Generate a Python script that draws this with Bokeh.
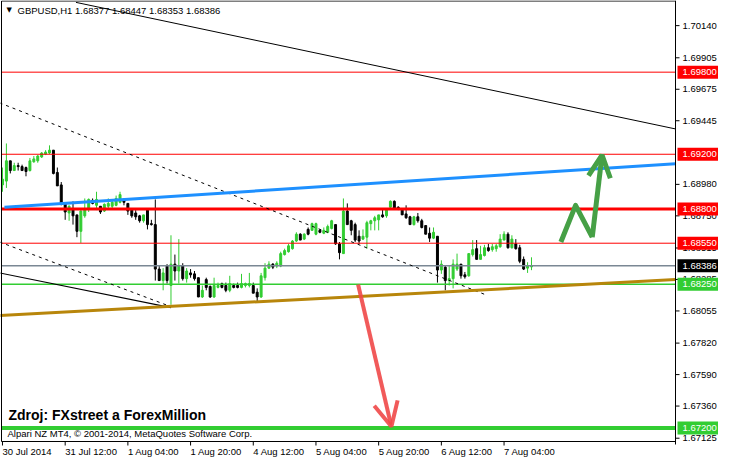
from bokeh.plotting import figure
from bokeh.models import Range1d, Label, Arrow, OpenHead, ColumnDataSource
from bokeh.core.properties import value
from bokeh.embed import file_html
from bokeh.resources import INLINE

# ---------------- data (GBPUSD H1) ----------------
opens = [
    1.68976, 1.69004, 1.69152, 1.69081, 1.69117, 1.69110, 1.69103, 1.69081, 1.69145, 1.69152,
    1.69180, 1.69201, 1.69209, 1.69230, 1.69067, 1.68976, 1.68841, 1.68771, 1.68799, 1.68757,
    1.68637, 1.68750, 1.68799, 1.68863, 1.68827, 1.68820, 1.68785, 1.68820, 1.68820, 1.68827,
    1.68849, 1.68870, 1.68841, 1.68792, 1.68771, 1.68750, 1.68714, 1.68792, 1.68693, 1.68686,
    1.68361, 1.68277, 1.68383, 1.68241, 1.68397, 1.68347, 1.68383, 1.68291, 1.68333, 1.68326,
    1.68298, 1.68157, 1.68284, 1.68234, 1.68157, 1.68227, 1.68255, 1.68241, 1.68206, 1.68241,
    1.68241, 1.68227, 1.68241, 1.68241, 1.68241, 1.68192, 1.68157, 1.68298, 1.68368, 1.68397,
    1.68383, 1.68383, 1.68467, 1.68488, 1.68510, 1.68566, 1.68616, 1.68580, 1.68651, 1.68644,
    1.68616, 1.68644, 1.68623, 1.68630, 1.68658, 1.68686, 1.68545, 1.68474, 1.68785, 1.68714,
    1.68686, 1.68601, 1.68580, 1.68594, 1.68693, 1.68714, 1.68721, 1.68757, 1.68750, 1.68813,
    1.68856, 1.68813, 1.68792, 1.68764, 1.68743, 1.68686, 1.68743, 1.68714, 1.68679, 1.68623,
    1.68587, 1.68601, 1.68354, 1.68375, 1.68277, 1.68291, 1.68361, 1.68397, 1.68319, 1.68312,
    1.68467, 1.68510, 1.68432, 1.68460, 1.68517, 1.68503, 1.68510, 1.68524, 1.68573, 1.68616,
    1.68517, 1.68545, 1.68517, 1.68432, 1.68368, 1.68377]
highs = [
    1.69103, 1.69279, 1.69152, 1.69138, 1.69138, 1.69124, 1.69110, 1.69173, 1.69187, 1.69194,
    1.69216, 1.69230, 1.69265, 1.69230, 1.69103, 1.68997, 1.68841, 1.68827, 1.68856, 1.68757,
    1.68792, 1.68877, 1.68877, 1.68877, 1.68926, 1.68820, 1.68841, 1.68877, 1.68863, 1.68898,
    1.68926, 1.68877, 1.68841, 1.68806, 1.68792, 1.68757, 1.68757, 1.68792, 1.68721, 1.68870,
    1.68383, 1.68368, 1.68397, 1.68608, 1.68467, 1.68580, 1.68404, 1.68368, 1.68361, 1.68347,
    1.68298, 1.68241, 1.68298, 1.68241, 1.68298, 1.68262, 1.68262, 1.68262, 1.68312, 1.68255,
    1.68262, 1.68326, 1.68262, 1.68333, 1.68262, 1.68220, 1.68333, 1.68404, 1.68418, 1.68404,
    1.68418, 1.68488, 1.68510, 1.68545, 1.68573, 1.68630, 1.68623, 1.68623, 1.68665, 1.68700,
    1.68700, 1.68651, 1.68665, 1.68686, 1.68721, 1.68686, 1.68559, 1.68877, 1.68841, 1.68721,
    1.68700, 1.68644, 1.68651, 1.68714, 1.68721, 1.68750, 1.68757, 1.68806, 1.68806, 1.68863,
    1.68863, 1.68820, 1.68806, 1.68827, 1.68750, 1.68750, 1.68771, 1.68728, 1.68679, 1.68665,
    1.68665, 1.68601, 1.68425, 1.68383, 1.68383, 1.68432, 1.68474, 1.68397, 1.68340, 1.68474,
    1.68573, 1.68573, 1.68531, 1.68538, 1.68545, 1.68545, 1.68545, 1.68616, 1.68637, 1.68630,
    1.68608, 1.68580, 1.68538, 1.68453, 1.68411, 1.68447]
lows = [
    1.68926, 1.68954, 1.69060, 1.69081, 1.69081, 1.69081, 1.69039, 1.69074, 1.69138, 1.69138,
    1.69173, 1.69194, 1.69201, 1.69053, 1.68969, 1.68827, 1.68721, 1.68714, 1.68686, 1.68594,
    1.68552, 1.68736, 1.68778, 1.68834, 1.68792, 1.68764, 1.68778, 1.68806, 1.68806, 1.68820,
    1.68841, 1.68827, 1.68757, 1.68736, 1.68721, 1.68700, 1.68700, 1.68651, 1.68679, 1.68277,
    1.68277, 1.68206, 1.68255, 1.68100, 1.68277, 1.68255, 1.68277, 1.68262, 1.68298, 1.68277,
    1.68157, 1.68150, 1.68206, 1.68150, 1.68150, 1.68220, 1.68220, 1.68192, 1.68192, 1.68220,
    1.68220, 1.68220, 1.68227, 1.68227, 1.68185, 1.68121, 1.68150, 1.68277, 1.68361, 1.68361,
    1.68368, 1.68375, 1.68460, 1.68481, 1.68503, 1.68559, 1.68573, 1.68573, 1.68608, 1.68644,
    1.68608, 1.68623, 1.68616, 1.68623, 1.68651, 1.68538, 1.68432, 1.68474, 1.68686, 1.68608,
    1.68559, 1.68545, 1.68573, 1.68510, 1.68644, 1.68644, 1.68644, 1.68736, 1.68736, 1.68806,
    1.68799, 1.68792, 1.68757, 1.68728, 1.68686, 1.68679, 1.68700, 1.68658, 1.68616, 1.68559,
    1.68580, 1.68262, 1.68326, 1.68206, 1.68241, 1.68220, 1.68347, 1.68291, 1.68291, 1.68305,
    1.68453, 1.68432, 1.68432, 1.68453, 1.68488, 1.68488, 1.68488, 1.68517, 1.68573, 1.68510,
    1.68510, 1.68503, 1.68404, 1.68354, 1.68333, 1.68353]
closes = [
    1.69018, 1.69152, 1.69081, 1.69117, 1.69110, 1.69081, 1.69074, 1.69152, 1.69166, 1.69187,
    1.69209, 1.69216, 1.69230, 1.69060, 1.68969, 1.68834, 1.68778, 1.68820, 1.68750, 1.68637,
    1.68785, 1.68792, 1.68870, 1.68841, 1.68870, 1.68778, 1.68834, 1.68841, 1.68849, 1.68877,
    1.68905, 1.68849, 1.68785, 1.68750, 1.68743, 1.68714, 1.68757, 1.68686, 1.68686, 1.68361,
    1.68277, 1.68333, 1.68277, 1.68397, 1.68347, 1.68383, 1.68291, 1.68347, 1.68319, 1.68291,
    1.68157, 1.68206, 1.68227, 1.68157, 1.68241, 1.68241, 1.68227, 1.68206, 1.68255, 1.68227,
    1.68227, 1.68255, 1.68255, 1.68255, 1.68185, 1.68157, 1.68312, 1.68368, 1.68397, 1.68375,
    1.68404, 1.68474, 1.68496, 1.68531, 1.68566, 1.68616, 1.68573, 1.68616, 1.68616, 1.68693,
    1.68693, 1.68630, 1.68644, 1.68672, 1.68714, 1.68545, 1.68481, 1.68785, 1.68686, 1.68644,
    1.68573, 1.68566, 1.68601, 1.68700, 1.68714, 1.68736, 1.68757, 1.68743, 1.68792, 1.68856,
    1.68806, 1.68799, 1.68757, 1.68736, 1.68686, 1.68743, 1.68714, 1.68665, 1.68616, 1.68587,
    1.68630, 1.68354, 1.68397, 1.68277, 1.68291, 1.68397, 1.68397, 1.68312, 1.68305, 1.68474,
    1.68503, 1.68432, 1.68467, 1.68517, 1.68496, 1.68524, 1.68531, 1.68580, 1.68616, 1.68517,
    1.68580, 1.68510, 1.68418, 1.68361, 1.68383, 1.68386]

# time axis (bar index -> label)
xtick_bars = [0, 16, 32, 48, 64, 80, 96, 112, 128]
xtick_labels = ["30 Jul 2014", "31 Jul 12:00", "1 Aug 04:00", "1 Aug 20:00", "4 Aug 12:00",
                "5 Aug 04:00", "5 Aug 20:00", "6 Aug 12:00", "7 Aug 04:00"]
# price axis
ytick_values = [1.70140, 1.69905, 1.69675, 1.69445, 1.68980, 1.68750, 1.68515, 1.68285,
                1.68055, 1.67820, 1.67590, 1.67360, 1.67125]
chart_x0, chart_x1 = -0.25, 171.75     # visible bars of the chart window
chart_y0, chart_y1 = 1.67101, 1.70320  # visible prices of the chart window

# horizontal levels
red_thin_levels = [1.69800, 1.69200, 1.68550]
red_thick_level = 1.68800
bid_level = 1.68386
green_thin_level = 1.68250
green_thick_level = 1.67200

# trend lines (bar index, price)
black_line_x, black_line_y = [18.75, 171.75], [1.70310, 1.69385]
dash_up_x, dash_up_y = [-0.75, 123.5], [1.69576, 1.68171]
dash_lo_x, dash_lo_y = [-0.75, 43.0], [1.68559, 1.68086]
black_lo_x, black_lo_y = [-0.75, 43.0], [1.68333, 1.68079]
brown_x, brown_y = [-0.75, 171.75], [1.68022, 1.68284]
blue_x, blue_y = [0.5, 171.75], [1.68813, 1.69131]

# arrows
sell_x, sell_y = [90.75, 99.25], [1.68248, 1.67211]
buy_x = [142.5, 146.25, 150.5, 153.0]
buy_y = [1.68559, 1.68827, 1.68594, 1.69194]

# ---------------- layout (canvas pixels) ----------------
W, H = 718, 459
CL, CR, CT, CB = 1.0, 675.0, 0.5, 441.0   # chart window inside the canvas
kx = (CR - CL) / (chart_x1 - chart_x0)
ky = (CB - CT) / (chart_y1 - chart_y0)


def bx(px):
    return chart_x0 + (px - CL) / kx


def py(px):
    return chart_y1 - (px - CT) / ky


FONT = "Liberation Sans"
bull, bear = "#32CD32", "#000000"

p = figure(width=W, height=H, x_range=Range1d(bx(0), bx(W)), y_range=Range1d(py(H), py(0)),
           output_backend="svg", toolbar_location=None,
           x_axis_location=None, y_axis_location=None,
           min_border_left=0, min_border_right=0, min_border_top=0, min_border_bottom=0)
p.background_fill_color = "white"
p.border_fill_color = "white"
p.outline_line_color = None
p.xgrid.visible = False
p.ygrid.visible = False

# candles
bars = list(range(len(opens)))
colors = [bull if c >= o else bear for o, c in zip(opens, closes)]
src = ColumnDataSource(dict(
    x=bars, high=highs, low=lows,
    top=[max(o, c) for o, c in zip(opens, closes)],
    bottom=[min(o, c) for o, c in zip(opens, closes)],
    color=colors))
p.segment(x0="x", y0="low", x1="x", y1="high", line_color="color", line_width=1, source=src)
p.vbar(x="x", width=0.5, top="top", bottom="bottom", fill_color="color",
       line_color="color", line_width=1, source=src)


# horizontal levels (inside the chart window only)
def hline(level, color, width):
    p.segment(x0=[chart_x0], x1=[chart_x1], y0=[level], y1=[level],
              line_color=color, line_width=width)


for lv in red_thin_levels:
    hline(lv, "#FF0000", 1)
hline(red_thick_level, "#FF0000", 3)
hline(bid_level, "#7A8794", 1.5)
hline(green_thin_level, "#32CD32", 1.5)
hline(green_thick_level, "#32CD32", 4)

# trend lines
p.line(black_line_x, black_line_y, line_color="black", line_width=1)
p.line(dash_up_x, dash_up_y, line_color="black", line_width=1, line_dash="3 4")
p.line(dash_lo_x, dash_lo_y, line_color="black", line_width=1, line_dash="3 4")
p.line(black_lo_x, black_lo_y, line_color="black", line_width=1.2)
p.line(brown_x, brown_y, line_color="#B8860B", line_width=3)
p.line(blue_x, blue_y, line_color="#1E90FF", line_width=3)

# arrows
red_arrow = "#F04848"
p.add_layout(Arrow(x_start=sell_x[0], y_start=sell_y[0], x_end=sell_x[1], y_end=sell_y[1],
                   line_color=red_arrow, line_width=4, line_alpha=0.9,
                   end=OpenHead(size=24, line_color=red_arrow, line_width=4, line_alpha=0.9)))
green_arrow = "#46A046"
p.line(buy_x[:3], buy_y[:3], line_color=green_arrow, line_width=5, line_join="round")
p.add_layout(Arrow(x_start=buy_x[2], y_start=buy_y[2], x_end=buy_x[3], y_end=buy_y[3],
                   line_color=green_arrow, line_width=5,
                   end=OpenHead(size=22, line_color=green_arrow, line_width=5)))

# white cover below / right of the chart window, then the window frame
p.quad(left=[bx(0)], right=[bx(W)], top=[chart_y0], bottom=[py(H)], fill_color="white",
       line_color=None)
p.quad(left=[chart_x1], right=[bx(W)], top=[py(0)], bottom=[py(H)], fill_color="white",
       line_color=None)
p.segment(x0=[chart_x0, chart_x1, chart_x0, chart_x0],
          x1=[chart_x0, chart_x1, chart_x1, chart_x1],
          y0=[chart_y0, py(CB + 3), chart_y0, chart_y1],
          y1=[chart_y1, py(0), chart_y0, chart_y1],
          line_color="black", line_width=1)

# time axis: ticks and labels (labels start at their tick, as in MT4)
p.segment(x0=xtick_bars, x1=xtick_bars, y0=[chart_y0] * len(xtick_bars),
          y1=[py(CB + 4)] * len(xtick_bars), line_color="black", line_width=1)
p.text(x=xtick_bars, y=[py(CB + 10)] * len(xtick_bars), text=xtick_labels,
       text_font=value(FONT), text_font_size=value("9.5px"), text_color="black",
       text_align="left", text_baseline="middle")

# price axis: ticks and labels
p.segment(x0=[chart_x1] * len(ytick_values), x1=[bx(CR + 4)] * len(ytick_values),
          y0=ytick_values, y1=ytick_values, line_color="black", line_width=1)
p.text(x=[bx(CR + 7)] * len(ytick_values), y=ytick_values,
       text=["%.5f" % v for v in ytick_values],
       text_font=value(FONT), text_font_size=value("9.5px"), text_color="black",
       text_align="left", text_baseline="middle")

# price tags of the levels
tag_levels = red_thin_levels + [red_thick_level, bid_level, green_thin_level, green_thick_level]
tag_colors = ["#FF0000"] * 4 + ["#000000", "#32CD32", "#32CD32"]
p.rect(x=[bx(CR + 2 + 20.5)] * len(tag_levels), y=tag_levels, width=41, height=13,
       width_units="screen", height_units="screen", fill_color=tag_colors, line_color=None)
p.text(x=[bx(CR + 7)] * len(tag_levels), y=tag_levels,
       text=["%.5f" % v for v in tag_levels],
       text_font=value(FONT), text_font_size=value("9.5px"), text_color="white",
       text_align="left", text_baseline="middle")

# texts
p.add_layout(Label(x=chart_x0, y=chart_y1, x_offset=5, y_offset=-9, text="\u25bc",
                   text_font="DejaVu Sans", text_font_size="7px", text_baseline="middle",
                   text_color="black"))
p.add_layout(Label(x=chart_x0, y=chart_y1, x_offset=16, y_offset=-9,
                   text="GBPUSD,H1  1.68377 1.68447 1.68353 1.68386",
                   text_font=FONT, text_font_size="9.5px", text_baseline="middle",
                   text_color="black"))
p.add_layout(Label(x=chart_x0, y=chart_y0, x_offset=7, y_offset=27,
                   text="Zdroj: FXstreet a ForexMillion", text_font=FONT,
                   text_font_size="14px", text_font_style="bold", text_color="black",
                   text_baseline="alphabetic"))
p.add_layout(Label(x=chart_x0, y=chart_y0, x_offset=6, y_offset=8,
                   text="Alpari NZ MT4, \u00a9 2001-2014, MetaQuotes Software Corp.",
                   text_font=FONT, text_font_size="9.5px", text_color="black",
                   text_baseline="alphabetic"))

open("out.html", "w").write(file_html(p, INLINE))
